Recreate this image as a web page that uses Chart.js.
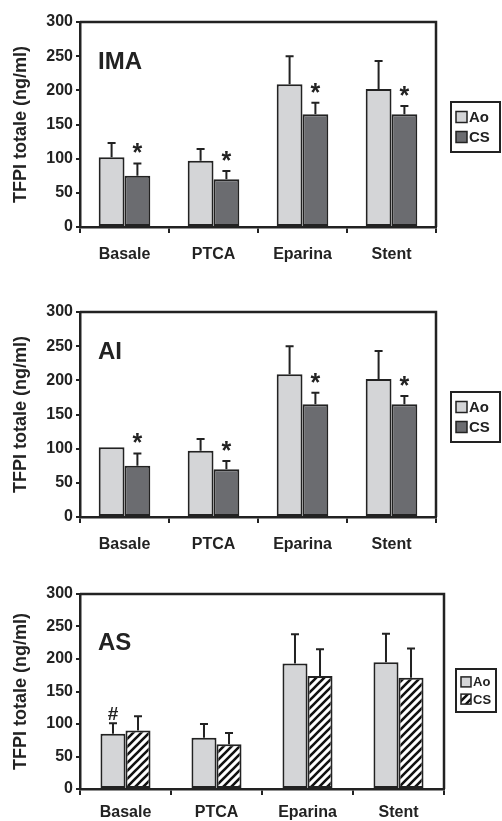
<!DOCTYPE html>
<html>
<head>
<meta charset="utf-8">
<script src="https://cdn.jsdelivr.net/npm/chart.js@4"></script>
<style>
  html, body { margin: 0; padding: 0; background: #fff; }
  body { width: 502px; height: 821px; position: relative; overflow: hidden; }
  .panel { position: absolute; left: 0; width: 502px; }
</style>
</head>
<body>
<div class="panel" style="top:0;height:270px"><canvas id="c1"></canvas></div>
<div class="panel" style="top:290px;height:270px"><canvas id="c2"></canvas></div>
<div class="panel" style="top:570px;height:251px"><canvas id="c3"></canvas></div>
<script>
const categories = ['Basale', 'PTCA', 'Eparina', 'Stent'];
const yTicks = [0, 50, 100, 150, 200, 250, 300];

// IMA
const imaAo = [102, 97, 209, 202];
const imaAoErr = [21, 17, 41, 41];
const imaCs = [75, 70, 165, 165];
const imaCsErr = [18, 12, 17, 12];
const imaCsMarks = ['*', '*', '*', '*'];

// AI
const aiAo = [102, 97, 209, 202];
const aiAoErr = [null, 17, 41, 41];
const aiCs = [75, 70, 165, 165];
const aiCsErr = [18, 12, 17, 12];
const aiCsMarks = ['*', '*', '*', '*'];

// AS
const asAo = [85, 79, 193, 195];
const asAoErr = [16, 21, 45, 44];
const asAoMarks = ['#', '', '', ''];
const asCs = [90, 69, 174, 171];
const asCsErr = [22, 17, 41, 45];

const FONT = "'Liberation Sans', Arial, sans-serif";
const INK = '#222';
const LIGHT = '#d4d5d7';
const DARK = '#6b6c70';

function hatch() {
  const s = 8;
  const c = document.createElement('canvas');
  c.width = s; c.height = s;
  const g = c.getContext('2d');
  g.fillStyle = '#fff';
  g.fillRect(0, 0, s, s);
  g.strokeStyle = '#111';
  g.lineWidth = 2.6;
  g.beginPath();
  for (const o of [-s, 0, s]) {
    g.moveTo(o - 1, s + 1);
    g.lineTo(o + s + 1, -1);
  }
  g.stroke();
  return g.createPattern(c, 'repeat');
}

// error bars, only the upper half
const errorBars = {
  id: 'errorBars',
  afterDatasetsDraw(chart) {
    const ctx = chart.ctx;
    const y = chart.scales.y;
    ctx.save();
    ctx.strokeStyle = INK;
    ctx.lineWidth = 2;
    chart.data.datasets.forEach((ds, di) => {
      const meta = chart.getDatasetMeta(di);
      meta.data.forEach((bar, i) => {
        const e = ds.errors && ds.errors[i];
        if (e == null) return;
        const top = y.getPixelForValue(ds.data[i] + e);
        ctx.beginPath();
        ctx.moveTo(bar.x, bar.y);
        ctx.lineTo(bar.x, top);
        ctx.moveTo(bar.x - 4, top);
        ctx.lineTo(bar.x + 4, top);
        ctx.stroke();
      });
    });
    ctx.restore();
  }
};

// * and # above the error bars
const marks = {
  id: 'marks',
  afterDatasetsDraw(chart) {
    const ctx = chart.ctx;
    const y = chart.scales.y;
    ctx.save();
    ctx.fillStyle = INK;
    ctx.textAlign = 'center';
    ctx.textBaseline = 'alphabetic';
    chart.data.datasets.forEach((ds, di) => {
      if (!ds.marks) return;
      const meta = chart.getDatasetMeta(di);
      meta.data.forEach((bar, i) => {
        const m = ds.marks[i];
        if (!m) return;
        const top = y.getPixelForValue(ds.data[i] + (ds.errors[i] || 0));
        if (m === '*') {
          ctx.font = 'bold 25px ' + FONT;
          ctx.fillText(m, bar.x, top - 2);
        } else {
          ctx.font = 'bold 19px ' + FONT;
          ctx.fillText(m, bar.x, top - 3);
        }
      });
    });
    ctx.restore();
  }
};

// box, panel name and legend
const frame = {
  id: 'frame',
  afterDraw(chart) {
    const o = chart.options.plugins.frame;
    const a = chart.chartArea;
    const ctx = chart.ctx;
    ctx.save();
    ctx.strokeStyle = INK;
    ctx.lineWidth = 2.5;
    ctx.beginPath();
    ctx.moveTo(a.left, a.top);
    ctx.lineTo(a.right, a.top);
    ctx.lineTo(a.right, a.bottom);
    ctx.stroke();

    ctx.fillStyle = INK;
    ctx.font = 'bold 24px ' + FONT;
    ctx.textAlign = 'left';
    ctx.textBaseline = 'alphabetic';
    ctx.fillText(o.name, a.left + 18, a.top + o.nameDy);

    // legend
    const L = o.legend;
    ctx.lineWidth = 2;
    ctx.strokeRect(L.x, L.y, L.w, L.h);
    ctx.font = 'bold ' + L.size + 'px ' + FONT;
    ctx.textBaseline = 'middle';
    chart.data.datasets.forEach((ds, i) => {
      const cy = L.y + L.h * (i === 0 ? 0.3 : 0.7);
      const sw = L.box;
      ctx.fillStyle = ds.backgroundColor;
      ctx.fillRect(L.x + 5, cy - sw / 2, sw, sw);
      ctx.lineWidth = 1.5;
      ctx.strokeRect(L.x + 5, cy - sw / 2, sw, sw);
      ctx.fillStyle = INK;
      ctx.fillText(ds.label, L.x + 7 + sw, cy + 1);
    });
    ctx.restore();
  }
};

function makePanel(id, o) {
  return new Chart(document.getElementById(id), {
    type: 'bar',
    data: {
      labels: categories,
      datasets: [
        { label: 'Ao', data: o.ao, errors: o.aoErr, marks: o.aoMarks,
          backgroundColor: LIGHT, borderColor: INK, borderWidth: 2, borderSkipped: false,
          categoryPercentage: o.cat, barPercentage: 1 },
        { label: 'CS', data: o.cs, errors: o.csErr, marks: o.csMarks,
          backgroundColor: o.csFill, borderColor: INK, borderWidth: 2, borderSkipped: false,
          categoryPercentage: o.cat, barPercentage: 1 }
      ]
    },
    options: {
      responsive: true,
      maintainAspectRatio: false,
      animation: false,
      layout: { padding: { top: o.top, right: o.right, left: 0, bottom: 0 } },
      plugins: {
        legend: { display: false },
        tooltip: { enabled: false },
        frame: { name: o.name, nameDy: o.nameDy, legend: o.legend }
      },
      scales: {
        x: {
          afterFit: (s) => { s.height = o.xh; },
          grid: { display: true, drawOnChartArea: false, drawTicks: true, tickLength: 6,
                  color: INK, lineWidth: 2, offset: true },
          border: { display: true, color: INK, width: 2.5 },
          ticks: { color: INK, padding: o.xpad, font: { family: FONT, size: 16, weight: 'bold' } }
        },
        y: {
          min: 0, max: 300,
          afterFit: (s) => { s.width = 80; },
          afterBuildTicks: (s) => { s.ticks = yTicks.map(v => ({ value: v })); },
          grid: { display: true, drawOnChartArea: false, drawTicks: true, tickLength: 4,
                  color: INK, lineWidth: 2 },
          border: { display: true, color: INK, width: 2.5 },
          ticks: { color: INK, padding: 3, font: { family: FONT, size: 16, weight: 'bold' } },
          title: { display: true, text: 'TFPI totale (ng/ml)', color: INK,
                   padding: { top: 10, bottom: 0 },
                   font: { family: FONT, size: 18, weight: 'bold' } }
        }
      }
    },
    plugins: [errorBars, marks, frame]
  });
}

makePanel('c1', {
  name: 'IMA', nameDy: 47, ao: imaAo, aoErr: imaAoErr, cs: imaCs, csErr: imaCsErr,
  csMarks: imaCsMarks, csFill: DARK, cat: 0.58, top: 22, right: 66, xh: 43, xpad: 12,
  legend: { x: 451, y: 102, w: 49, h: 50, size: 15, box: 11 }
});
makePanel('c2', {
  name: 'AI', nameDy: 47, ao: aiAo, aoErr: aiAoErr, cs: aiCs, csErr: aiCsErr,
  csMarks: aiCsMarks, csFill: DARK, cat: 0.58, top: 22, right: 66, xh: 43, xpad: 12,
  legend: { x: 451, y: 102, w: 49, h: 50, size: 15, box: 11 }
});
makePanel('c3', {
  name: 'AS', nameDy: 56, ao: asAo, aoErr: asAoErr, aoMarks: asAoMarks, cs: asCs, csErr: asCsErr,
  csFill: hatch(), cat: 0.55, top: 24, right: 58, xh: 32, xpad: 8,
  legend: { x: 456, y: 99, w: 40, h: 43, size: 13, box: 10 }
});
</script>
</body>
</html>
